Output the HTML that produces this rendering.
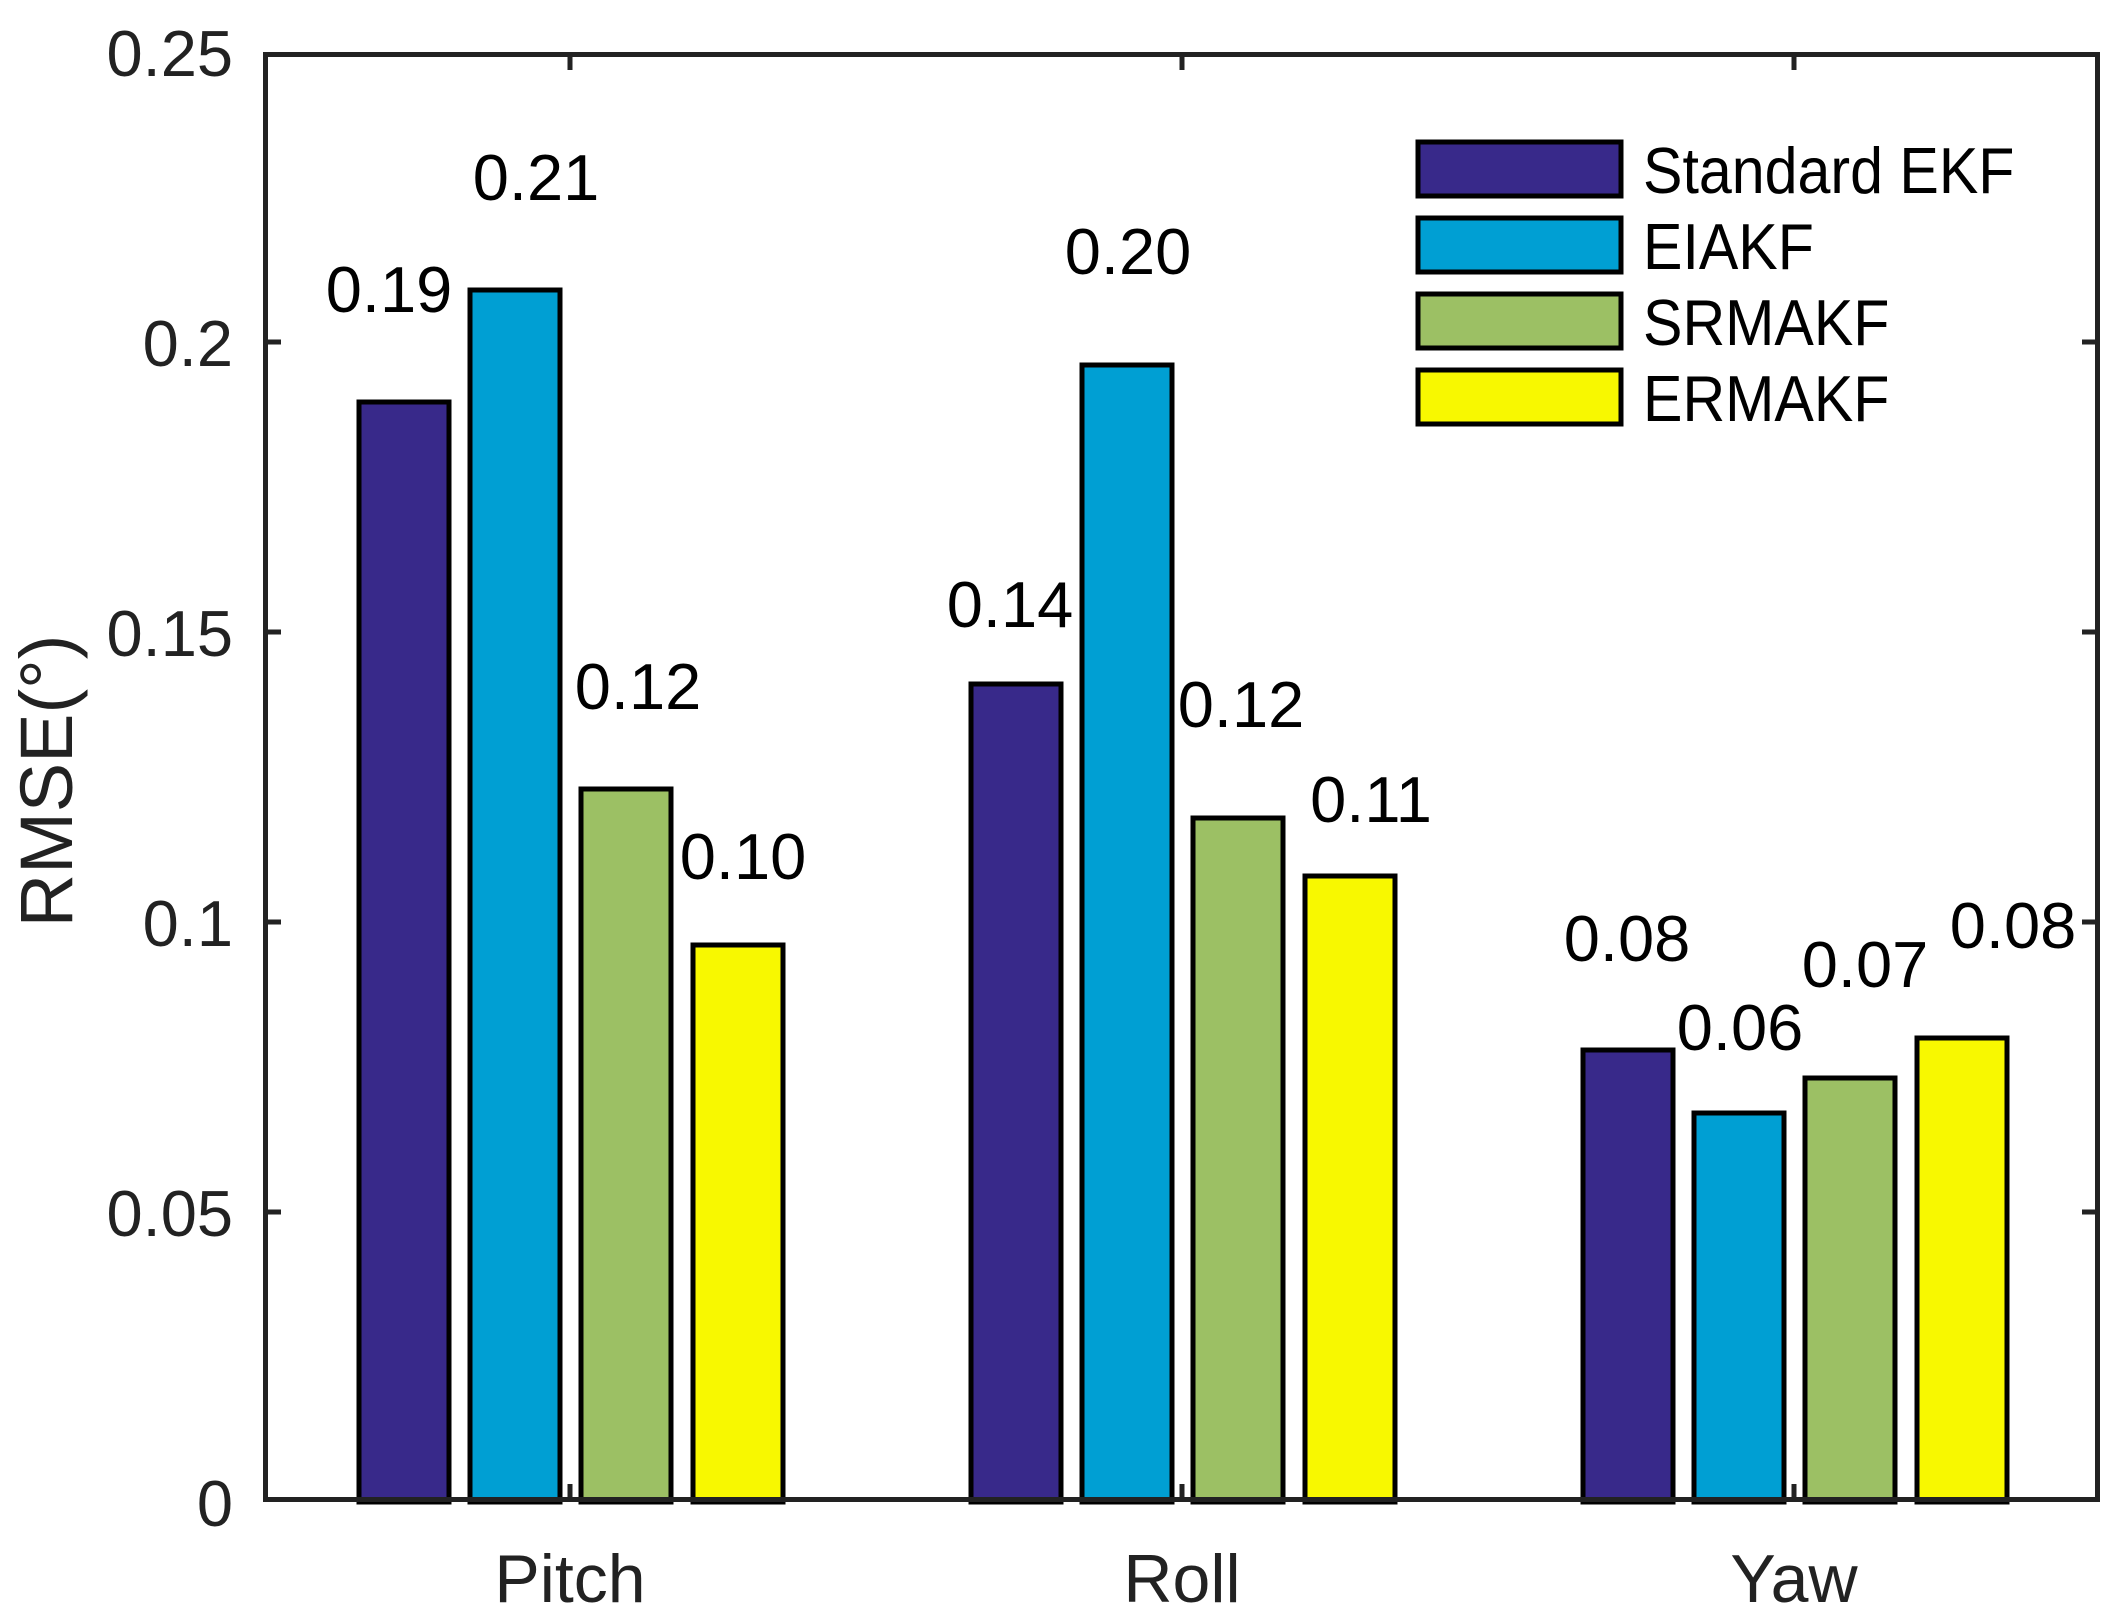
<!DOCTYPE html>
<html><head><meta charset="utf-8"><style>
html,body{margin:0;padding:0;background:#fff;}
svg{display:block;}
text{font-family:"Liberation Sans",Arial,sans-serif;font-size:65px;fill:#000;}
.t{fill:#222;}
</style></head><body>
<svg width="2124" height="1614" viewBox="0 0 2124 1614" xmlns="http://www.w3.org/2000/svg">
<rect width="2124" height="1614" fill="#fff"/>
<g stroke="#000" stroke-width="5">
<rect x="359" y="402" width="90" height="1100" fill="#38298A"/>
<rect x="470" y="290" width="90" height="1212" fill="#009FD3"/>
<rect x="581" y="789" width="90" height="713" fill="#9CC064"/>
<rect x="693" y="945" width="90" height="557" fill="#F8F800"/>

<rect x="971" y="684" width="90" height="818" fill="#38298A"/>
<rect x="1082" y="365" width="90" height="1137" fill="#009FD3"/>
<rect x="1193" y="818" width="90" height="684" fill="#9CC064"/>
<rect x="1305" y="876" width="90" height="626" fill="#F8F800"/>

<rect x="1583" y="1050" width="90" height="452" fill="#38298A"/>
<rect x="1694" y="1113" width="90" height="389" fill="#009FD3"/>
<rect x="1805" y="1078" width="90" height="424" fill="#9CC064"/>
<rect x="1917" y="1038" width="90" height="464" fill="#F8F800"/>
</g>
<rect x="265.5" y="54.5" width="1832" height="1445" fill="none" stroke="#222" stroke-width="5"/>
<g stroke="#222" stroke-width="5">
<line x1="570" y1="1502" x2="570" y2="1484"/><line x1="1182" y1="1502" x2="1182" y2="1484"/><line x1="1794" y1="1502" x2="1794" y2="1484"/>
<line x1="570" y1="52" x2="570" y2="70"/><line x1="1182" y1="52" x2="1182" y2="70"/><line x1="1794" y1="52" x2="1794" y2="70"/>
<line x1="263" y1="1212" x2="281" y2="1212"/><line x1="263" y1="922" x2="281" y2="922"/><line x1="263" y1="632" x2="281" y2="632"/><line x1="263" y1="342" x2="281" y2="342"/>
<line x1="2100" y1="1212" x2="2082" y2="1212"/><line x1="2100" y1="922" x2="2082" y2="922"/><line x1="2100" y1="632" x2="2082" y2="632"/><line x1="2100" y1="342" x2="2082" y2="342"/>
</g>
<text class="t" text-anchor="end" x="233" y="1526">0</text>
<text class="t" text-anchor="end" x="233" y="1236">0.05</text>
<text class="t" text-anchor="end" x="233" y="946">0.1</text>
<text class="t" text-anchor="end" x="233" y="656">0.15</text>
<text class="t" text-anchor="end" x="233" y="366">0.2</text>
<text class="t" text-anchor="end" x="233" y="76">0.25</text>

<text class="t" text-anchor="middle" x="570" y="1602" style="font-size:68px">Pitch</text>
<text class="t" text-anchor="middle" x="1182" y="1602" style="font-size:68px">Roll</text>
<text class="t" text-anchor="middle" x="1794" y="1602" style="font-size:68px">Yaw</text>

<text class="t" text-anchor="middle" transform="translate(72,781) rotate(-90)" style="font-size:74px">RMSE(°)</text>

<text text-anchor="middle" x="389" y="312">0.19</text>
<text text-anchor="middle" x="536" y="200">0.21</text>
<text text-anchor="middle" x="638" y="709">0.12</text>
<text text-anchor="middle" x="743" y="879">0.10</text>
<text text-anchor="middle" x="1010" y="627">0.14</text>
<text text-anchor="middle" x="1128" y="274">0.20</text>
<text text-anchor="middle" x="1241" y="727">0.12</text>
<text text-anchor="middle" x="1371" y="822">0.11</text>
<text text-anchor="middle" x="1627" y="961">0.08</text>
<text text-anchor="middle" x="1740" y="1050">0.06</text>
<text text-anchor="middle" x="1865" y="987">0.07</text>
<text text-anchor="middle" x="2013" y="948">0.08</text>

<g stroke="#000" stroke-width="5">
<rect x="1418" y="142" width="203" height="54" fill="#38298A"/>
<rect x="1418" y="218" width="203" height="54" fill="#009FD3"/>
<rect x="1418" y="294" width="203" height="54" fill="#9CC064"/>
<rect x="1418" y="370" width="203" height="54" fill="#F8F800"/>
</g>
<text transform="translate(1643,193) scale(0.91,1)">Standard EKF</text>
<text transform="translate(1643,269) scale(0.91,1)">EIAKF</text>
<text transform="translate(1643,345) scale(0.91,1)">SRMAKF</text>
<text transform="translate(1643,421) scale(0.91,1)">ERMAKF</text>
</svg>
</body></html>
